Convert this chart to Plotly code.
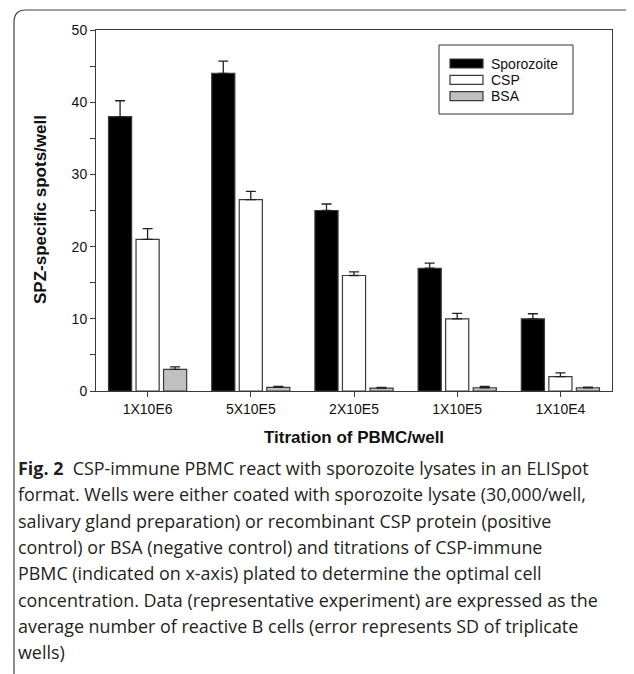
import plotly.graph_objects as go

categories = ["1X10E6", "5X10E5", "2X10E5", "1X10E5", "1X10E4"]
sporozoite = [38.0, 44.0, 25.0, 17.0, 10.0]
sporozoite_sd = [2.2, 1.7, 0.9, 0.7, 0.7]
csp = [21.0, 26.5, 16.0, 10.0, 2.0]
csp_sd = [1.5, 1.15, 0.5, 0.75, 0.5]
bsa = [3.0, 0.5, 0.4, 0.45, 0.45]
bsa_sd = [0.35, 0.15, 0.1, 0.2, 0.1]

caption_lines = [
    "<b>Fig. 2</b>  CSP-immune PBMC react with sporozoite lysates in an ELISpot",
    "format. Wells were either coated with sporozoite lysate (30,000/well,",
    "salivary gland preparation) or recombinant CSP protein (positive",
    "control) or BSA (negative control) and titrations of CSP-immune",
    "PBMC (indicated on x-axis) plated to determine the optimal cell",
    "concentration. Data (representative experiment) are expressed as the",
    "average number of reactive B cells (error represents SD of triplicate",
    "wells)",
]

OFF = 8  # page body margin
W, H = 634 - OFF, 674 - OFF
L, R, T, B = 96 - OFF, 612 - OFF, 30 - OFF, 391 - OFF
pw, ph = R - L, B - T


def px(x):  # page pixel -> paper
    return (x - OFF - L) / pw


def py(y):
    return (B - (y - OFF)) / ph


edge = "#3a3a3a"
err = dict(type="data", symmetric=False, color="#222222", thickness=1.3, width=5)
series = [
    ("Sporozoite", sporozoite, sporozoite_sd, "#000000"),
    ("CSP", csp, csp_sd, "#ffffff"),
    ("BSA", bsa, bsa_sd, "#c0c0c0"),
]

fig = go.Figure()
for name, vals, sd, fill in series:
    fig.add_trace(go.Bar(
        x=categories, y=vals, name=name, showlegend=False,
        marker=dict(color=fill, line=dict(color=edge, width=1.2)),
        error_y=dict(array=sd, arrayminus=[0] * len(sd), **err),
    ))

fig.update_layout(
    width=W, height=H,
    margin=dict(l=L, r=W - R, t=T, b=H - B, autoexpand=False),
    paper_bgcolor="white", plot_bgcolor="white",
    barmode="group", bargap=0.2, bargroupgap=0.16,
    font=dict(family="Liberation Sans, Arial", size=14, color="#111111"),
)

fig.update_yaxes(
    range=[0, 50], tickmode="linear", dtick=10, tick0=0,
    ticks="outside", ticklen=5, tickcolor=edge, tickwidth=1,
    minor=dict(dtick=5, ticks="outside", ticklen=5, tickcolor=edge, showgrid=False),
    showline=True, linecolor=edge, linewidth=1, mirror=True,
    showgrid=False, zeroline=False, tickfont=dict(size=14),
)
fig.update_xaxes(
    ticks="outside", ticklen=5, tickcolor=edge,
    showline=True, linecolor=edge, linewidth=1, mirror=True,
    showgrid=False, tickfont=dict(size=14),
)

# axis titles
fig.add_annotation(text="<b>SPZ-specific spots/well</b>", xref="paper", yref="paper",
                   x=px(40), y=py(210), textangle=-90, showarrow=False,
                   xanchor="center", yanchor="middle", font=dict(size=17))
fig.add_annotation(text="<b>Titration of PBMC/well</b>", xref="paper", yref="paper",
                   x=px(354), y=py(437), showarrow=False,
                   xanchor="center", yanchor="middle", font=dict(size=17))

# legend box
fig.add_shape(type="rect", xref="paper", yref="paper",
              x0=px(439), x1=px(573), y0=py(45), y1=py(114),
              line=dict(color="#333333", width=1), fillcolor="white", layer="above")
for i, (name, _, _, fill) in enumerate(series):
    yc = 63.5 + i * 16.3
    fig.add_shape(type="rect", xref="paper", yref="paper",
                  x0=px(450), x1=px(483), y0=py(yc - 4.5), y1=py(yc + 4.5),
                  line=dict(color=edge, width=1.2), fillcolor=fill, layer="above")
    fig.add_annotation(text=name, xref="paper", yref="paper", x=px(489), y=py(yc),
                       xanchor="left", yanchor="middle", showarrow=False,
                       font=dict(size=14))

# outer figure frame (rounded top-left corner)
r = 12
x0, y0 = 14, 10
fig.add_shape(
    type="path", xref="paper", yref="paper",
    path=(f"M {px(x0)} {py(680)} L {px(x0)} {py(y0 + r)} "
          f"Q {px(x0)} {py(y0)} {px(x0 + r)} {py(y0)} L {px(640)} {py(y0)}"),
    line=dict(color="#444444", width=1.2),
)

for i, line in enumerate(caption_lines):
    fig.add_annotation(
        text=line, xref="paper", yref="paper",
        x=px(16), y=py(468 + i * 26.3), xanchor="left", yanchor="middle",
        showarrow=False, align="left",
        font=dict(family="Open Sans", size=17.9, color="#231f20"),
    )

fig.write_html("out.html")
